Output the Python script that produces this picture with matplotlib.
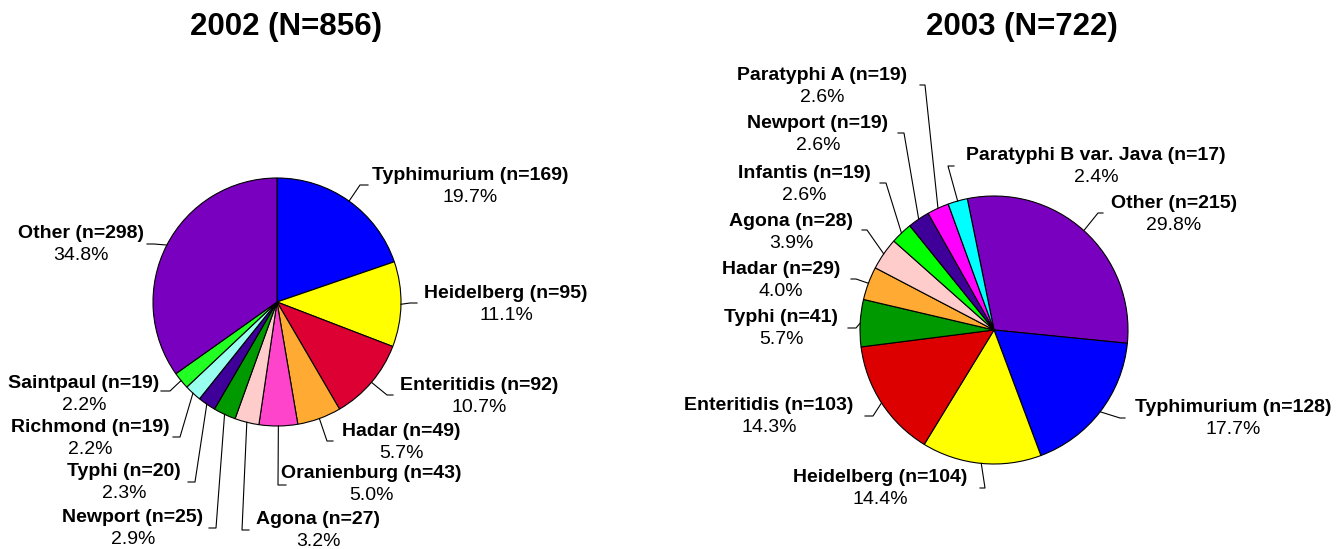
import numpy as np
import matplotlib
matplotlib.use("Agg")
import matplotlib.pyplot as plt

plt.rcParams['font.family'] = ['Liberation Sans', 'DejaVu Sans']

# ---- data ----
names_2002 = ['Typhimurium', 'Heidelberg', 'Enteritidis', 'Hadar', 'Oranienburg',
              'Agona', 'Newport', 'Typhi', 'Richmond', 'Saintpaul', 'Other']
counts_2002 = [169, 95, 92, 49, 43, 27, 25, 20, 19, 19, 298]
colors_2002 = ['#0000FF', '#FFFF00', '#DD0033', '#FFAA33', '#FF44CC',
               '#FFCCCC', '#009900', '#3F0099', '#99FFEE', '#22FF22', '#7800BE']

names_2003 = ['Other', 'Typhimurium', 'Heidelberg', 'Enteritidis', 'Typhi', 'Hadar',
              'Agona', 'Infantis', 'Newport', 'Paratyphi A', 'Paratyphi B var. Java']
counts_2003 = [215, 128, 104, 103, 41, 29, 28, 19, 19, 19, 17]
colors_2003 = ['#7800BE', '#0000FF', '#FFFF00', '#DD0000', '#009900', '#FFAA33',
               '#FFCCCC', '#00FF00', '#3F0099', '#FF00FF', '#00FFFF']

H = 549  # figure height in px, layout below is in pixels from top-left

# label layout: (text x, text y, attach x, attach y, elbow x)
layout_2002 = [
    (470, 175, 368, 185, 360),
    (506, 293, 417, 303, 410),
    (479, 385, 393, 395, 387),
    (401, 432, 333, 441, 327),
    (371, 474, 286, 485, 278),
    (318, 520, 249, 530, 242),
    (133, 517, 209, 528, 216),
    (124, 472, 188, 482, 195),
    (90, 428, 173, 437, 180),
    (84, 383, 161, 391, 170),
    (81, 234, 147, 244, 154),
]
layout_2003 = [
    (1174, 203, 1103, 213, 1098),
    (1233, 407, 1125, 418, 1120),
    (880, 478, 980, 488, 985),
    (769, 405, 865, 416, 873),
    (781, 318, 848, 328, 856),
    (781, 270, 851, 279, 856),
    (791, 221, 862, 230, 867),
    (804, 173, 880, 183, 886),
    (818, 123, 898, 133, 904),
    (822, 75, 920, 85, 925),
    (1096, 155, 954, 166, 948),
]

fig = plt.figure(figsize=(13.38, 5.49), dpi=100)
ax = fig.add_axes([0, 0, 1, 1])


def draw_pie(counts, names, colors, layout, center, radius, start, title, title_x):
    cx, cy = center[0], H - center[1]
    wedges, _ = ax.pie(counts, colors=colors, startangle=start, counterclock=False,
                       center=(cx, cy), radius=radius,
                       wedgeprops=dict(edgecolor='black', linewidth=0.8))
    total = sum(counts)
    for w, name, n, (tx, ty, ax_, ay, ex) in zip(wedges, names, counts, layout):
        mid = np.deg2rad((w.theta1 + w.theta2) / 2)
        px = cx + radius * np.cos(mid)
        py = cy + radius * np.sin(mid)
        ax.plot([px, ex, ax_], [py, H - ay, H - ay], color='black', lw=0.8)
        ax.text(tx, H - ty, f'{name} (n={n})', ha='center', va='center',
                fontsize=14, fontweight='bold')
        ax.text(tx, H - ty - 22, f'{n / total * 100:.1f}%', ha='center', va='center',
                fontsize=14)
    ax.text(title_x, H - 27, f'{title} (N={total})', ha='center', va='center',
            fontsize=22.5, fontweight='bold')


draw_pie(counts_2002, names_2002, colors_2002, layout_2002, (277, 302), 124, 90, '2002', 286)
draw_pie(counts_2003, names_2003, colors_2003, layout_2003, (994, 330), 134, 101.5, '2003', 1022)

ax.set_xlim(0, 1338)
ax.set_ylim(0, H)
ax.set_axis_off()

fig.savefig('out.png', dpi=100, facecolor='white')
